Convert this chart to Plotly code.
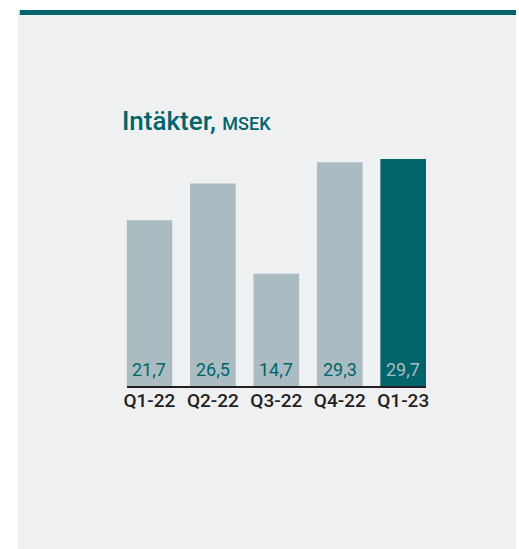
import plotly.graph_objects as go

categories = ["Q1-22", "Q2-22", "Q3-22", "Q4-22", "Q1-23"]
values = [21.7, 26.5, 14.7, 29.3, 29.7]
value_labels = ["21,7", "26,5", "14,7", "29,3", "29,7"]

W, H = 519, 549
TEAL = "#00646a"
LIGHT = "#aabcc2"
BG = "#eff0f2"
DARK = "#231f20"

bar_colors = [LIGHT] * 4 + [TEAL]
text_colors = [TEAL] * 4 + ["#a9bec3"]

fig = go.Figure(go.Bar(
    x=list(range(len(categories))), y=values,
    marker=dict(color=bar_colors, line=dict(width=0)),
    hoverinfo="skip",
))

def px_x(p):
    return p / W

def px_y(p):
    return 1 - p / H

annotations = [
    dict(xref="paper", yref="paper", x=px_x(118), y=px_y(121),
         xanchor="left", yanchor="middle", showarrow=False,
         text="Intäkter, <span style='font-size:18px'>MSEK</span>",
         font=dict(family="Roboto", size=26, color=TEAL, weight=500)),
]
for i, (lab, col) in enumerate(zip(value_labels, text_colors)):
    annotations.append(dict(
        xref="x", yref="y", x=i, y=0, xanchor="center", yanchor="bottom",
        yshift=4, showarrow=False, text=lab,
        font=dict(family="Roboto", size=18, color=col)))

fig.update_layout(
    width=W, height=H,
    margin=dict(l=0, r=0, t=0, b=0),
    paper_bgcolor="white", plot_bgcolor="rgba(0,0,0,0)",
    bargap=0.28,
    showlegend=False,
    xaxis=dict(
        domain=[px_x(125), px_x(428)],
        range=[-0.36, 4.36],
        tickvals=list(range(len(categories))), ticktext=categories,
        showgrid=False, zeroline=False,
        showline=True, linecolor=DARK, linewidth=2,
        ticks="", ticklabelstandoff=-4,
        tickfont=dict(family="Roboto", size=19, color=DARK, weight=500),
        fixedrange=True,
    ),
    yaxis=dict(
        domain=[px_y(386), px_y(156.8)],
        range=[0, 30],
        visible=False, showgrid=False, zeroline=False,
        fixedrange=True,
    ),
    shapes=[
        dict(type="rect", xref="paper", yref="paper",
             x0=px_x(15), x1=1, y0=0, y1=px_y(10),
             fillcolor=BG, line=dict(width=0), layer="below"),
        dict(type="rect", xref="paper", yref="paper",
             x0=px_x(17), x1=1, y0=px_y(15), y1=px_y(10),
             fillcolor=TEAL, line=dict(width=0), layer="below"),
    ],
    annotations=annotations,
)

fig.write_html(
    "out.html",
    config={"displayModeBar": False, "staticPlot": True},
    post_script=(
        "document.documentElement.style.overflow='hidden';"
        "document.body.style.margin='0';document.body.style.overflow='hidden';"
    ),
)
